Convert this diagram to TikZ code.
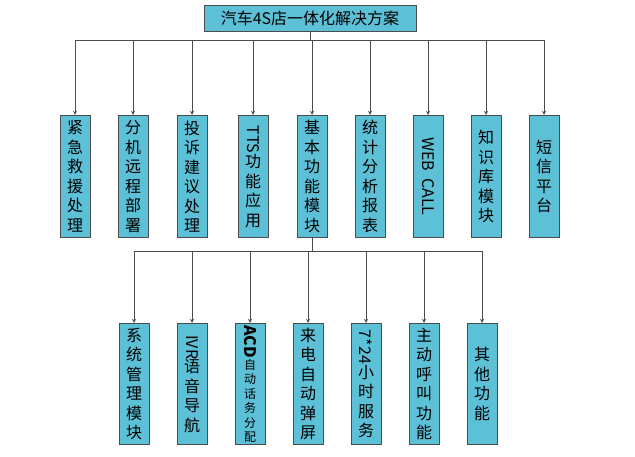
\documentclass[tikz,border=0pt]{standalone}
\usepackage{fontspec}
\setmainfont{Noto Sans CJK SC}
\usepackage{graphicx}
\usetikzlibrary{arrows,positioning}
\definecolor{boxcyan}{HTML}{5CC0D6}
\newcommand{\rl}[1]{\rotatebox[origin=c]{-90}{#1}}
\begin{document}
\begin{tikzpicture}[
  x=1pt, y=-1pt,
  box/.style={rectangle, draw=black!70, fill=boxcyan, line width=0.9pt,
    minimum width=30pt, align=center, inner sep=1pt, font=\fontsize{16}{19.5}\selectfont},
  top/.style={box, minimum height=122pt, anchor=north},
  low/.style={box, minimum height=121pt, anchor=north},
  head/.style={box, minimum width=212pt, minimum height=26pt, font=\fontsize{16}{18}\selectfont},
  arr/.style={->,>=stealth, draw=black!70, line width=0.9pt},
  ln/.style={draw=black!70, line width=0.9pt},
]
\useasboundingbox (0,0) rectangle (635,457);
\node[head] (root) at (310,18) {汽车4S店一体化解决方案};
\coordinate (bar) at (310,40);

\node[top] (a1) at (75,115)  {紧\\急\\救\\援\\处\\理};
\node[top] (a2) at (133,115) {分\\机\\远\\程\\部\\署};
\node[top] (a3) at (192,115) {投\\诉\\建\\议\\处\\理};
\node[top] (a4) at (253,115) {\rl{TTS}\\功\\能\\应\\用};
\node[top] (a5) at (312,115) {基\\本\\功\\能\\模\\块};
\node[top] (a6) at (370,115) {统\\计\\分\\析\\报\\表};
\node[top] (a7) at (428,115) {\rl{WEB\ \ CALL}};
\node[top] (a8) at (486,115) {知\\识\\库\\模\\块};
\node[top] (a9) at (544,115) {短\\信\\平\\台};

\draw[ln] (root.south) -- (bar);
\draw[ln] (a1.north |- bar) -- (a9.north |- bar);
\foreach \i in {1,...,9} \draw[arr] (a\i.north |- bar) -- (a\i.north);

\coordinate (bar2) at (312,251);
\node[low] (b1) at (134,323) {系\\统\\管\\理\\模\\块};
\node[low] (b2) at (192,323) {\rl{IVR}\\语\\音\\导\\航};
\node[low, font=\fontsize{12}{14.5}\selectfont] (b3) at (250,323) {\rl{\fontsize{16}{16}\selectfont\bfseries ACD}\\自\\动\\话\\务\\分\\配};
\node[low] (b4) at (308,323) {来\\电\\自\\动\\弹\\屏};
\node[low] (b5) at (366,323) {\rl{7*24}\\小\\时\\服\\务};
\node[low] (b6) at (424,323) {主\\动\\呼\\叫\\功\\能};
\node[low] (b7) at (482,323) {其\\他\\功\\能};

\draw[ln] (a5.south) -- (a5.south |- bar2);
\draw[ln] (b1.north |- bar2) -- (b7.north |- bar2);
\foreach \i in {1,...,7} \draw[arr] (b\i.north |- bar2) -- (b\i.north);
\end{tikzpicture}
\end{document}
